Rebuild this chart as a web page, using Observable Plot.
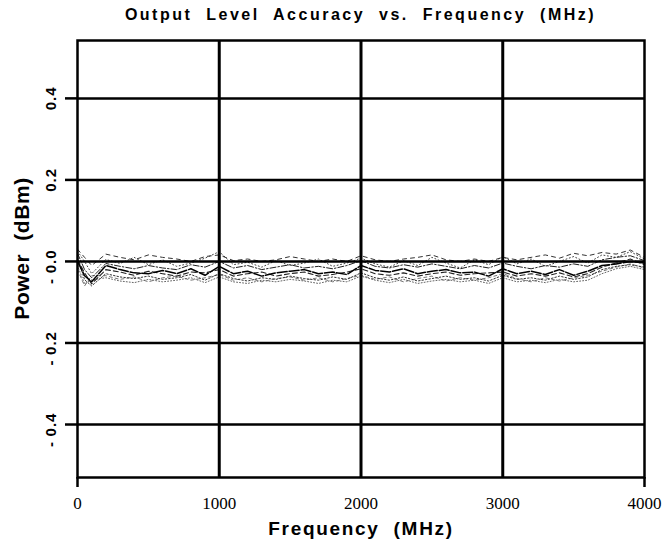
<!DOCTYPE html>
<html><head><meta charset="utf-8">
<script src="https://cdn.jsdelivr.net/npm/d3@7"></script>
<script src="https://cdn.jsdelivr.net/npm/@observablehq/plot@0.6"></script>
<style>
body{margin:0;background:#fff;}
#title{height:28px;line-height:30px;width:567px;margin-left:77px;text-align:center;font-family:"Liberation Sans",Arial,sans-serif;font-weight:bold;font-size:16px;letter-spacing:2.5px;word-spacing:7px;color:#000;white-space:nowrap;}
</style>
</head><body>
<div id="title">Output Level Accuracy vs. Frequency (MHz)</div>
<div id="chart"></div>
<script>
const freq = [0,50,100,200,300,400,500,600,700,800,900,1000,1100,1200,1300,1400,1500,1600,1700,1800,1900,2000,2100,2200,2300,2400,2500,2600,2700,2800,2900,3000,3100,3200,3300,3400,3500,3600,3700,3800,3900,4000];

const s1 = [0.000,-0.035,-0.050,-0.010,-0.020,-0.028,-0.030,-0.022,-0.030,-0.018,-0.034,-0.012,-0.030,-0.024,-0.036,-0.028,-0.024,-0.020,-0.030,-0.026,-0.032,-0.010,-0.022,-0.026,-0.018,-0.030,-0.024,-0.020,-0.028,-0.026,-0.036,-0.018,-0.030,-0.024,-0.032,-0.020,-0.034,-0.024,-0.010,-0.006,0.000,-0.004];
const s2 = [0.030,0.010,-0.010,0.018,0.010,0.004,0.016,0.010,0.006,0.000,0.012,0.016,0.002,0.006,0.000,0.004,0.012,0.006,0.000,0.006,0.000,0.014,0.004,0.000,0.006,0.010,0.016,0.004,0.000,0.006,0.000,0.010,0.004,0.010,0.016,0.008,0.020,0.014,0.022,0.018,0.028,0.010];
const s3 = [0.010,-0.045,-0.060,-0.030,-0.038,-0.042,-0.036,-0.044,-0.040,-0.032,-0.046,-0.030,-0.042,-0.048,-0.040,-0.044,-0.036,-0.042,-0.046,-0.038,-0.044,-0.028,-0.040,-0.046,-0.038,-0.048,-0.042,-0.036,-0.044,-0.040,-0.048,-0.034,-0.044,-0.040,-0.046,-0.036,-0.044,-0.038,-0.020,-0.012,-0.008,-0.014];
const s4 = [0.020,-0.020,-0.040,-0.005,-0.012,-0.018,-0.010,-0.016,-0.020,-0.008,-0.014,0.000,-0.016,-0.010,-0.020,-0.014,-0.008,-0.016,-0.012,-0.018,-0.010,0.002,-0.012,-0.016,-0.008,-0.014,-0.006,-0.012,-0.018,-0.010,-0.016,-0.004,-0.012,-0.018,-0.010,-0.014,-0.006,-0.012,0.004,0.010,0.014,0.002];
const s5 = [-0.010,-0.055,-0.045,-0.040,-0.048,-0.052,-0.044,-0.050,-0.046,-0.040,-0.052,-0.038,-0.050,-0.054,-0.046,-0.050,-0.044,-0.048,-0.054,-0.046,-0.050,-0.036,-0.046,-0.052,-0.044,-0.054,-0.048,-0.044,-0.050,-0.046,-0.054,-0.040,-0.050,-0.046,-0.052,-0.044,-0.050,-0.046,-0.030,-0.018,-0.012,-0.020];
const s6 = [0.005,-0.028,-0.055,-0.020,-0.026,-0.034,-0.024,-0.030,-0.036,-0.026,-0.028,-0.020,-0.036,-0.030,-0.026,-0.036,-0.030,-0.026,-0.036,-0.032,-0.026,-0.018,-0.030,-0.034,-0.028,-0.036,-0.030,-0.026,-0.034,-0.030,-0.028,-0.026,-0.036,-0.030,-0.036,-0.028,-0.038,-0.030,-0.014,-0.004,0.006,-0.008];
const s7 = [0.025,0.000,-0.030,0.005,-0.005,0.010,-0.008,0.004,-0.012,-0.004,0.008,0.024,-0.008,-0.002,-0.014,0.002,-0.010,-0.004,0.006,-0.012,-0.004,0.008,-0.006,-0.014,0.002,-0.010,0.010,-0.004,-0.016,0.004,-0.008,0.012,-0.006,0.006,-0.012,0.000,0.012,-0.004,0.016,0.010,0.024,0.006];
const s8 = [-0.020,-0.060,-0.035,-0.035,-0.044,-0.038,-0.050,-0.040,-0.036,-0.046,-0.040,-0.032,-0.046,-0.040,-0.050,-0.042,-0.038,-0.046,-0.040,-0.050,-0.042,-0.034,-0.044,-0.038,-0.050,-0.042,-0.036,-0.048,-0.040,-0.046,-0.040,-0.030,-0.042,-0.050,-0.040,-0.048,-0.040,-0.034,-0.024,-0.014,-0.006,-0.016];

const yTicks = [0.4, 0.2, 0, -0.2, -0.4];
const yTickNumbers = ["0.4", "0.2", "0.0", "0.2", "0.4"];
const yNegTicks = [0, -0.2, -0.4];
const xTicks = [0, 1000, 2000, 3000, 4000];
const xTickLabels = ["0", "1000", "2000", "3000", "4000"];
const xGrid = [1000, 2000, 3000];
const xTitle = "Frequency  (MHz)";
const yTitle = "Power  (dBm)";

const seriesList = [
  {v: s8, stroke: "#777", w: 1, dash: "3,3"},
  {v: s5, stroke: "#666", w: 1, dash: "1,2"},
  {v: s3, stroke: "#333", w: 1, dash: "1.5,2"},
  {v: s7, stroke: "#444", w: 1, dash: "1,2.5"},
  {v: s6, stroke: "#222", w: 1.1, dash: "5,3"},
  {v: s4, stroke: "#222", w: 1, dash: "6,2,1.5,2"},
  {v: s2, stroke: "#333", w: 1, dash: "4,4"},
  {v: s1, stroke: "#000", w: 1.5, dash: "10,2"}
];

const sans = "'Liberation Sans', Arial, sans-serif";
const serif = "'Liberation Serif', 'Times New Roman', serif";

const lineMarks = seriesList.map(s => Plot.line(freq.map((f, i) => ({f, p: s.v[i]})), {
  x: "f", y: "p", stroke: s.stroke, strokeWidth: s.w, strokeDasharray: s.dash, curve: "linear"
}));

const chart = Plot.plot({
  width: 665,
  height: 514,
  marginTop: 12,
  marginBottom: 65,
  marginLeft: 77,
  marginRight: 21,
  x: {domain: [0, 4000]},
  y: {domain: [-0.53, 0.542]},
  style: {background: "#fff", color: "#000"},
  marks: [
    ...lineMarks,
    Plot.ruleY(yTicks, {y: d => d, stroke: "#000", strokeWidth: 2.5}),
    Plot.ruleX(xGrid, {x: d => d, stroke: "#000", strokeWidth: 3}),
    Plot.frame({stroke: "#000", strokeWidth: 2.5}),
    Plot.axisY(yTicks, {label: null, tickSize: 12, tickFormat: () => "", strokeWidth: 2.5, stroke: "#000"}),
    Plot.axisX([0, 4000], {label: null, tickSize: 10, tickFormat: () => "", strokeWidth: 2.5, stroke: "#000"}),
    Plot.text(yTicks, {y: d => d, frameAnchor: "left", dx: -26, rotate: -90, textAnchor: "middle", lineAnchor: "middle", text: (d, i) => yTickNumbers[i], fontSize: 15, fontWeight: "bold", fontFamily: sans, fill: "#000"}),
    Plot.text(yNegTicks, {y: d => d, frameAnchor: "left", dx: -26, dy: 20, rotate: -90, textAnchor: "middle", lineAnchor: "middle", text: () => "-", fontSize: 15, fontWeight: "bold", fontFamily: sans, fill: "#000"}),
    Plot.text(xTicks, {x: d => d, frameAnchor: "bottom", dy: 26, textAnchor: "middle", lineAnchor: "middle", text: (d, i) => xTickLabels[i], fontSize: 17, fontFamily: serif, fill: "#000"}),
    Plot.text([xTitle], {frameAnchor: "bottom", dy: 51, textAnchor: "middle", lineAnchor: "middle", text: d => d, fontSize: 19, fontWeight: "bold", fontFamily: sans, fill: "#000"}),
    Plot.text([0.032], {y: d => d, frameAnchor: "left", dx: -55, rotate: -90, textAnchor: "middle", lineAnchor: "middle", text: () => yTitle, fontSize: 21, fontWeight: "bold", fontFamily: sans, fill: "#000"})
  ]
});
d3.select(chart).selectAll("text").each(function() {
  const t = this.textContent;
  if (t === xTitle) this.style.letterSpacing = "1.7px";
  if (t === yTitle) this.style.letterSpacing = "0.6px";
  if (yTickNumbers.includes(t)) this.style.letterSpacing = "1px";
});
document.getElementById("chart").appendChild(chart);
</script>
</body></html>
